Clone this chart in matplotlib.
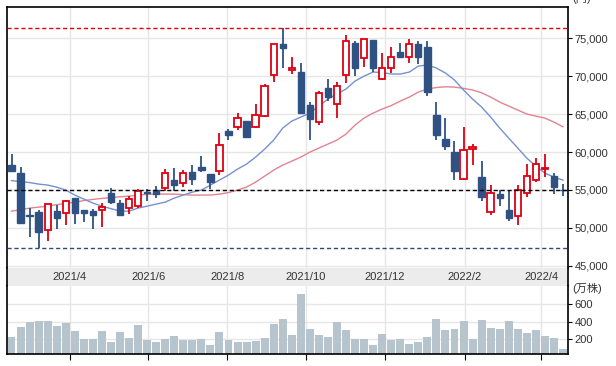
import matplotlib
matplotlib.use("Agg")
import matplotlib.pyplot as plt
import numpy as np
import pandas as pd

# weekly candles, starting week of 2021-02-15
start = pd.Timestamp("2021-02-15")
opens = [58300, 57200, 51650, 52050, 49650, 52200, 51900, 53900, 52300, 52200,
         52300, 54600, 53250, 52550, 52850, 54750, 55050, 55200, 56300, 55850,
         57350, 58000, 57100, 57450, 62750, 63250, 64100, 63250, 64750, 70100,
         74250, 70800, 70550, 66200, 63900, 68400, 66400, 70100, 74350, 72350,
         74750, 69650, 71050, 73200, 72500, 74250, 73900, 64900, 61700, 59950,
         56500, 60350, 56750, 52100, 54450, 52350, 51550, 54550, 56300, 57700,
         56800, 55000]
highs = [59700, 58000, 52550, 52300, 53100, 52950, 53620, 53900, 52350, 52450,
         53300, 55200, 53650, 54200, 55150, 55100, 55500, 57750, 57950, 57600,
         58350, 59500, 57100, 62450, 63050, 65100, 64100, 66400, 69000, 74300,
         76300, 72500, 71700, 66650, 68100, 69700, 69200, 75400, 74700, 74900,
         74800, 73000, 73800, 74450, 74950, 74700, 74700, 66650, 64500, 61450,
         63300, 61050, 58800, 55650, 55050, 54950, 55650, 58400, 59150, 59800,
         57200, 55750]
lows = [57300, 50600, 48800, 47400, 48300, 49800, 50400, 50450, 50800, 49800,
        50050, 53200, 51600, 51850, 52650, 53550, 53900, 54850, 54850, 55400,
        55600, 57400, 55100, 56950, 61600, 62900, 62000, 63200, 64650, 69250,
        71100, 70300, 65050, 61600, 63500, 66700, 64550, 69050, 70000, 71250,
        70600, 69550, 70400, 72350, 71700, 71550, 67400, 61600, 60250, 56300,
        56300, 58300, 53550, 51650, 52900, 50900, 50350, 54100, 56000, 56750,
        54400, 54200]
closes = [57500, 50700, 51600, 49450, 53100, 51300, 53600, 52000, 52000, 51700,
          52700, 53400, 51700, 53750, 54800, 54550, 54450, 57200, 55650, 57200,
          56450, 57600, 56050, 60900, 62300, 64550, 62000, 64850, 68700, 74250,
          73700, 71100, 65100, 64400, 67850, 67300, 68650, 74600, 71100, 74850,
          71100, 71100, 72500, 72550, 74200, 72500, 67950, 62300, 60800, 57500,
          60250, 60600, 54100, 54650, 53950, 51300, 55000, 56800, 58400, 57950,
          55350, 54950]
volume = [230, 345, 400, 410, 410, 355, 380, 290, 205, 205, 290, 165, 280, 220,
          365, 195, 165, 205, 240, 195, 195, 205, 140, 280, 195, 165, 165, 185,
          220, 370, 425, 245, 710, 320, 250, 230, 400, 300, 205, 205, 140, 265,
          195, 205, 150, 165, 230, 430, 310, 320, 410, 205, 420, 330, 320, 410,
          320, 275, 310, 240, 220, 85]
ma_short = [56230, 56100, 55970, 55770, 55640, 55370, 54980, 54320, 53790, 53260,
            52860, 52530, 52200, 52200, 52600, 52860, 53130, 53390, 53920, 54320,
            54710, 54980, 55640, 56300, 56960, 57750, 58410, 59330, 60390, 61580,
            63160, 64080, 64610, 65140, 66060, 66990, 67650, 68310, 69360, 70020,
            70550, 70490, 70290, 70290, 70550, 71340, 71480, 71080, 70420, 69500,
            68180, 66990, 65930, 64610, 63160, 61840, 60520, 59200, 58140, 57220,
            56690, 56300]
ma_long = [52200, 52400, 52600, 52730, 52860, 53060, 53220, 53390, 53590, 53750,
           53880, 53990, 54090, 54180, 54320, 54410, 54450, 54450, 54450, 54380,
           54320, 54320, 54320, 54450, 54650, 54980, 55370, 56030, 56820, 57620,
           58280, 58800, 59330, 59990, 60520, 61050, 61580, 62370, 63560, 64480,
           65140, 65670, 66130, 66720, 67250, 67910, 68310, 68510, 68610, 68570,
           68400, 68180, 67820, 67250, 66590, 66060, 65540, 65010, 64740, 64480,
           63950, 63330]
month_ticks = ["2021-04-01", "2021-06-01", "2021-08-01", "2021-10-01",
               "2021-12-01", "2022-02-01", "2022-04-01"]
price_ticks = [45000, 50000, 55000, 60000, 65000, 70000, 75000]
vol_ticks = [200, 400, 600]

UP = "#dd0010"
DOWN = "#2f5283"
GRID = "#e6e6e6"
TXT = "#333333"
FONT = ["Liberation Sans", "Noto Sans CJK JP"]
plt.rcParams["font.family"] = FONT

o = np.array(opens)
h = np.array(highs)
l = np.array(lows)
c = np.array(closes)
x = np.arange(len(o))
mx = [(pd.Timestamp(m) - start).days / 7 for m in month_ticks]
mlab = [f"{pd.Timestamp(m).year}/{pd.Timestamp(m).month}" for m in month_ticks]

fig = plt.figure(figsize=(6.16, 3.66), dpi=100)
W, H = 616, 366
left, right = 7 / W, 567.5 / W
ax = fig.add_axes([left, 1 - 268.3 / H, right - left, (268.3 - 6.5) / H])
band = fig.add_axes([left, 1 - 286 / H, right - left, (286 - 268.3) / H])
axv = fig.add_axes([left, 1 - 354.3 / H, right - left, (354.3 - 286) / H])

for a in (ax, band, axv):
    a.set_xlim(-0.5, len(o) - 0.5)

# price panel
ax.set_ylim(44660, 79200)
for p in price_ticks:
    ax.axhline(p, color=GRID, lw=1, zorder=0)
for m in mx:
    ax.axvline(m, color=GRID, lw=1, zorder=0)
ax.plot(x, ma_long, color="#e2848e", lw=1, zorder=2)
ax.plot(x, ma_short, color="#7592cf", lw=1, zorder=2)

up = c >= o
ax.vlines(x, l, h, colors=np.where(up, UP, DOWN), lw=1.3, zorder=3)
body_lo = np.minimum(o, c)
body_h = np.maximum(np.abs(c - o), 40)
ax.bar(x[up], body_h[up], bottom=body_lo[up], width=0.7, facecolor="white",
       edgecolor=UP, lw=1.3, zorder=4)
ax.bar(x[~up], body_h[~up], bottom=body_lo[~up], width=0.7, facecolor=DOWN,
       edgecolor=DOWN, lw=1, zorder=4)

ax.axhline(h.max(), color="#e00010", lw=1, ls=(0, (3, 2)), zorder=5)
ax.axhline(l.min(), color="#2f4a7a", lw=1, ls=(0, (3, 2)), zorder=5)
ax.axhline(c[-1], color="black", lw=1, ls=(0, (3, 2)), zorder=5)

ax.yaxis.tick_right()
ax.set_yticks(price_ticks)
ax.set_yticklabels([f"{p:,}" for p in price_ticks])
ax.tick_params(axis="y", length=3, pad=2, labelsize=8, labelcolor=TXT)
ax.set_xticks([])
ax.spines["bottom"].set_visible(False)
for s in ("left", "top", "right"):
    ax.spines[s].set_linewidth(1.2)

# date band
band.set_facecolor("#ececec")
band.set_ylim(0, 1)
band.set_xticks([])
band.set_yticks([])
band.spines["top"].set_visible(False)
band.spines["bottom"].set_visible(False)
for s in ("left", "right"):
    band.spines[s].set_linewidth(1.2)
for m, t in zip(mx, mlab):
    band.text(m, 0.5, t, ha="center", va="center", fontsize=8, color=TXT)

# volume panel
axv.set_ylim(30, 804)
for v in vol_ticks:
    axv.axhline(v, color=GRID, lw=1, zorder=0)
for m in mx:
    axv.axvline(m, color=GRID, lw=1, zorder=0)
axv.bar(x, volume, width=0.88, color="#b6c5cd", zorder=2)
axv.yaxis.tick_right()
axv.set_yticks(vol_ticks)
axv.set_yticklabels([str(v) for v in vol_ticks])
axv.tick_params(axis="y", length=3, pad=2, labelsize=8, labelcolor=TXT)
axv.set_xticks(mx)
axv.set_xticklabels([])
axv.tick_params(axis="x", length=4, direction="out")
axv.spines["top"].set_visible(False)
for s in ("left", "bottom", "right"):
    axv.spines[s].set_linewidth(1.2)

fig.text(572 / W, 1 - 288 / H, "(万株)", fontsize=8, color=TXT, va="center")
fig.text(572 / W, 1 + 1 / H, "(円)", fontsize=8, color=TXT, va="center")

fig.savefig("out.png", dpi=100)
